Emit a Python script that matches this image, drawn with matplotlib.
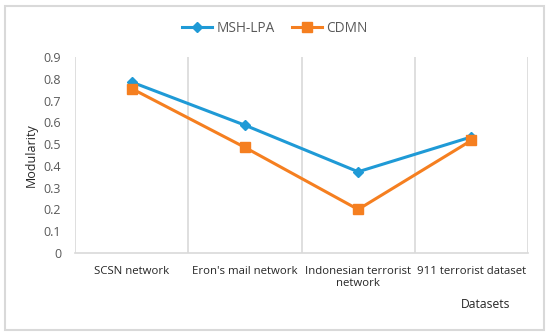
import numpy as np
import matplotlib
matplotlib.use('Agg')
import matplotlib.pyplot as plt
from matplotlib.patches import Rectangle

# data
datasets = ["SCSN network", "Eron's mail network", "Indonesian terrorist\nnetwork", "911 terrorist dataset"]
msh_lpa = [0.785, 0.587, 0.373, 0.533]
cdmn = [0.755, 0.485, 0.200, 0.517]
yticks = [0, 0.1, 0.2, 0.3, 0.4, 0.5, 0.6, 0.7, 0.8, 0.9]

plt.rcParams['font.family'] = ['Open Sans', 'DejaVu Sans']

fig = plt.figure(figsize=(5.5, 3.36), dpi=100)
ax = fig.add_axes([75 / 550, 1 - 253 / 336, 453 / 550, 196 / 336])

x = np.arange(len(datasets))
ax.plot(x, msh_lpa, color='#1f9ad6', lw=2.2, marker='D', ms=5, label='MSH-LPA')
ax.plot(x, cdmn, color='#f57f20', lw=2.2, marker='s', ms=7, label='CDMN')

ax.set_xlim(-0.5, len(datasets) - 0.5)
ax.set_ylim(0, 0.9)
ax.set_yticks(yticks)
ax.set_yticklabels([f'{v:g}' for v in yticks], fontsize=9, color='#595959')
ax.set_xticks(x)
ax.set_xticklabels(datasets, fontsize=8.2, color='#262626', linespacing=1.25)
ax.set_xticks(np.arange(-0.5, len(datasets)), minor=True)
ax.grid(True, which='minor', axis='x', color='#d9d9d9', lw=1.2)
ax.tick_params(axis='both', which='both', length=0)
ax.tick_params(axis='x', pad=9)
ax.tick_params(axis='y', pad=10)
for s in ['top', 'left', 'right']:
    ax.spines[s].set_visible(False)
ax.spines['bottom'].set_color('#d9d9d9')
ax.spines['bottom'].set_linewidth(1.2)

ax.set_ylabel('Modularity', fontsize=9, color='#262626', labelpad=4)
fig.text(486 / 550, 1 - 304 / 336, 'Datasets', ha='center', va='center',
         fontsize=8.7, color='#262626')

ax.legend(loc='center', bbox_to_anchor=(0.5, 1 - 28 / 336), bbox_transform=fig.transFigure,
          ncol=2, frameon=False, fontsize=9.8, labelcolor='#595959',
          handlelength=2.2, columnspacing=1.3, handletextpad=0.3)

fig.patches.append(Rectangle((5 / 550, 1 - 330 / 336), 539 / 550, 324 / 336,
                             transform=fig.transFigure, fill=False,
                             edgecolor='#d9d9d9', lw=1.5))

fig.savefig('out.png', dpi=100)
